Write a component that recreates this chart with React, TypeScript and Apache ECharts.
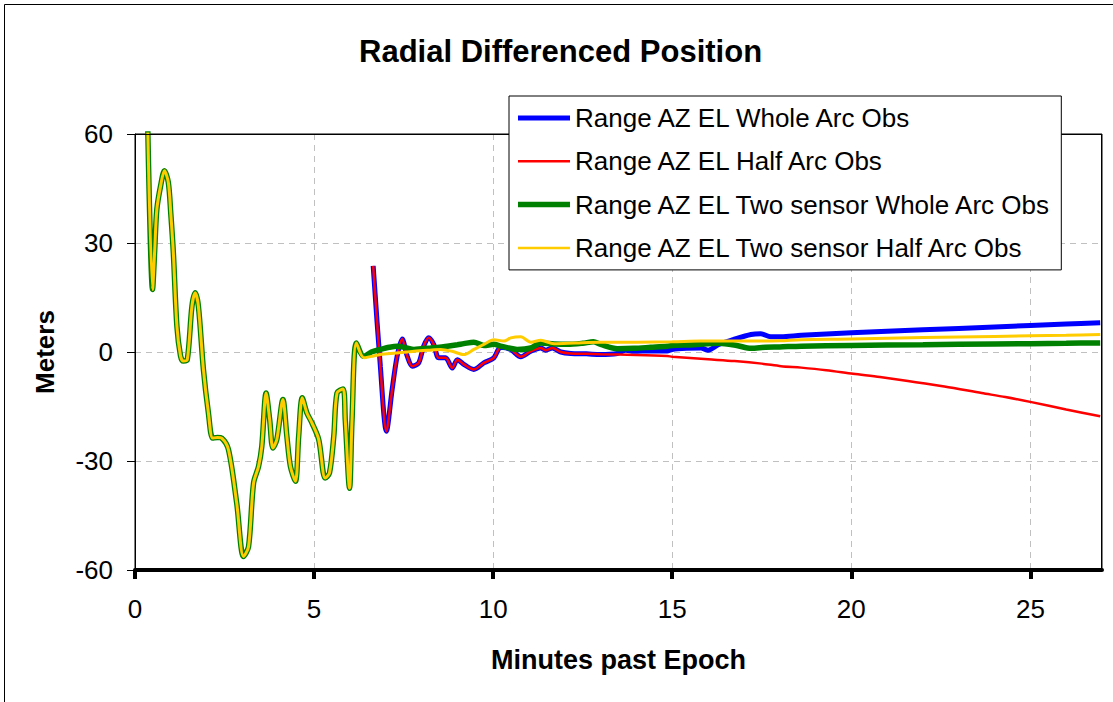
import React, { useEffect, useRef } from "react";
import * as echarts from "echarts";

const FONT = '"Liberation Sans", Arial, Helvetica, sans-serif';

const chartTitle = "Radial Differenced Position";
const xAxisName = "Minutes past Epoch";
const yAxisName = "Meters";
const seriesNames = [
  "Range AZ EL Whole Arc Obs",
  "Range AZ EL Half Arc Obs",
  "Range AZ EL Two sensor Whole Arc Obs",
  "Range AZ EL Two sensor Half Arc Obs",
];
const seriesColors = ["#0000ff", "#ff0000", "#008000", "#ffcc00"];
const seriesWidths = [5, 2.5, 5.5, 3];
const legendIcons = [
  "path://M0,0H52V5H0Z",
  "path://M0,0H52V2.5H0Z",
  "path://M0,0H52V5.5H0Z",
  "path://M0,0H52V2.5H0Z",
];
const xTicks = [0, 5, 10, 15, 20, 25];

// [minutes, meters] — shared early section of the two-sensor solutions
const twoSensorEarly: [number, number][] = [
  [0.34, 70], [0.49, 17.2], [0.55, 28], [0.61, 39.3], [0.72, 46], [0.82, 49.9],
  [0.93, 46.7], [1.0, 38], [1.07, 27.4], [1.17, 7.1], [1.27, -1], [1.35, -2.5],
  [1.46, -2.1], [1.59, 12.6], [1.68, 16.3], [1.77, 12.6], [1.91, -4.8], [2.05, -16.8],
  [2.17, -23.7], [2.3, -23.5], [2.42, -23.7], [2.61, -26.9], [2.84, -41.6], [3.03, -56.3],
  [3.17, -53.6], [3.31, -36.1], [3.45, -31.5], [3.54, -26], [3.66, -11.3], [3.76, -18.6],
  [3.85, -26.4], [3.96, -24.1], [4.13, -13.1], [4.24, -23.2], [4.34, -31.5], [4.48, -35.6],
  [4.57, -23.2], [4.67, -12.6], [4.8, -16.8], [4.94, -19.5], [5.13, -24.1], [5.31, -34.7],
  [5.43, -33.3], [5.55, -23.2], [5.64, -11.3], [5.81, -10.2], [5.87, -18.6], [5.99, -37.5],
  [6.06, -18.6], [6.18, 2.5],
];

const twoSensorWholeTail: [number, number][] = [
  [6.39, -1.2], [6.6, 0], [6.85, 0.7], [7.1, 1.3], [7.32, 1.6], [7.55, 1.2], [7.79, 0.7],
  [8.0, 0.9], [8.25, 1.1], [8.5, 1.3], [8.72, 1.6], [9.0, 2.0], [9.18, 2.3], [9.46, 2.7],
  [9.74, 1.8], [10.02, 2.1], [10.21, 1.6], [10.39, 1.2], [10.67, 0.7], [11.05, 1.1],
  [11.33, 2.5], [11.7, 2.2], [12.07, 2.1], [12.5, 2.4], [12.8, 2.8], [13.0, 2.1],
  [13.47, 0.9], [13.93, 1.0], [14.4, 1.3], [14.86, 1.6], [15.0, 1.8], [15.6, 2.0],
  [16.3, 2.4], [16.8, 1.8], [17.2, 1.0], [17.6, 1.3], [18.0, 1.4], [18.6, 1.6], [20, 1.8],
  [22, 2.0], [24, 2.2], [26, 2.4], [26.95, 2.5],
];

const twoSensorHalfTail: [number, number][] = [
  [6.39, -1.6], [6.6, -1.2], [6.85, -0.7], [7.3, -0.3], [7.79, 0.2], [8.2, 0.5], [8.53, 0.7],
  [8.85, 0.2], [9.18, -0.7], [9.46, 0.7], [9.74, 2.1], [10.02, 3.4], [10.3, 3.0],
  [10.49, 3.9], [10.77, 4.2], [11.05, 2.7], [11.33, 3.2], [11.7, 2.3], [12.3, 2.5],
  [13.0, 2.7], [14, 2.7], [15, 2.8], [15.8, 3.0], [16.74, 3.0], [18.0, 3.1], [18.6, 3.4],
  [20, 3.6], [22, 4.0], [24, 4.3], [26, 4.6], [26.95, 4.8],
];

// shared early section of the single-sensor solutions
const arcEarly: [number, number][] = [
  [6.65, 23.7], [6.85, -3.9], [7.02, -21.8], [7.18, -10.3], [7.32, -1.1], [7.46, 3.6],
  [7.6, -1.1], [7.74, -3.9], [7.92, -3.0], [8.06, 1.6], [8.2, 3.9], [8.34, 2.1],
  [8.48, -1.6], [8.67, -1.6], [8.86, -4.4], [9.0, -2.1], [9.18, -3.4], [9.46, -4.8],
  [9.74, -3.0], [10.02, -1.6], [10.21, 1.3], [10.49, 0.7], [10.77, -1.3], [11.05, 0.2],
  [11.33, 1.1], [11.47, 0.5], [11.65, 1.1], [11.89, 0], [12.17, -0.4],
];

const wholeArcTail: [number, number][] = [
  [12.6, -0.5], [13.0, -0.7], [13.47, -0.4], [13.7, 0.5], [13.93, 0.2], [14.4, 0.3],
  [14.86, 0.3], [15.0, 0.7], [15.4, 1.0], [15.8, 1.1], [16.0, 0.5], [16.3, 2.1],
  [16.7, 3.4], [17.2, 4.8], [17.47, 5.0], [17.75, 4.2], [18.04, 4.2], [18.6, 4.6],
  [20, 5.3], [22, 6.1], [24, 6.9], [25, 7.3], [26, 7.7], [26.95, 8.05],
];

const halfArcTail: [number, number][] = [
  [12.6, -0.5], [13.0, -0.6], [14, -0.8], [14.86, -1.1], [15, -1.3], [16, -2.0],
  [16.74, -2.5], [17.5, -3.2], [18.04, -3.9], [18.6, -4.3], [19.3, -5.0], [20.05, -6.0],
  [20.8, -6.9], [21.58, -8.0], [22.6, -9.5], [23.64, -11.3], [24.3, -12.4], [25.03, -13.8],
  [26, -15.8], [26.95, -17.7],
];

const seriesData: [number, number][][] = [
  [...arcEarly, ...wholeArcTail],
  [...arcEarly, ...halfArcTail],
  [...twoSensorEarly, ...twoSensorWholeTail],
  [...twoSensorEarly, ...twoSensorHalfTail],
];

export default function App() {
  const ref = useRef<HTMLDivElement>(null);

  useEffect(() => {
    if (!ref.current) return;
    const chart = echarts.init(ref.current, null, { renderer: "svg" });
    const option: any = {
      animation: false,
      backgroundColor: "#ffffff",
      title: {
        text: chartTitle,
        left: 354,
        top: 31,
        textStyle: { fontFamily: FONT, fontSize: 31, fontWeight: "bold", color: "#000" },
      },
      graphic: [
        {
          type: "rect",
          z: 100,
          silent: true,
          shape: { x: 4.5, y: 4.5, width: 1200, height: 800 },
          style: { fill: "none", stroke: "#000", lineWidth: 1 },
        },
        {
          type: "line",
          z: 3,
          silent: true,
          shape: { x1: 135, y1: 134.5, x2: 1102, y2: 134.5 },
          style: { stroke: "#000", lineWidth: 1 },
        },
        {
          type: "line",
          z: 3,
          silent: true,
          shape: { x1: 1101.5, y1: 134, x2: 1101.5, y2: 570 },
          style: { stroke: "#000", lineWidth: 1 },
        },
      ],
      grid: {
        left: 135,
        right: 11,
        top: 134,
        bottom: 132,
        show: true,
        borderColor: "#000",
        borderWidth: 1,
        backgroundColor: "transparent",
      },
      legend: {
        orient: "vertical",
        left: 509,
        top: 96,
        z: 10,
        padding: [9, 8, 9, 9],
        itemWidth: 52,
        itemHeight: 26,
        itemGap: 17.3,
        symbolKeepAspect: true,
        backgroundColor: "#fff",
        borderColor: "#000",
        borderWidth: 1,
        textStyle: { fontFamily: FONT, fontSize: 26, color: "#000" },
        data: seriesNames.map((name, i) => ({
          name,
          icon: legendIcons[i],
          itemStyle: { color: seriesColors[i], borderWidth: 0 },
        })),
      },
      xAxis: {
        type: "value",
        min: 0,
        max: 27,
        interval: 5,
        name: xAxisName,
        nameLocation: "middle",
        nameGap: 76,
        nameTextStyle: { fontFamily: FONT, fontSize: 27, fontWeight: "bold", color: "#000" },
        axisLine: { show: true, onZero: false, lineStyle: { color: "#000", width: 4 } },
        axisTick: { show: true, length: 9, customValues: xTicks, lineStyle: { color: "#000", width: 4 } },
        axisLabel: { customValues: xTicks, margin: 26, fontFamily: FONT, fontSize: 26, color: "#000" },
        splitLine: { show: true, lineStyle: { color: "#c0c0c0", type: [6, 5], width: 1 } },
      },
      yAxis: {
        type: "value",
        min: -60,
        max: 60,
        interval: 30,
        name: yAxisName,
        nameLocation: "middle",
        nameGap: 77,
        nameTextStyle: { fontFamily: FONT, fontSize: 26, fontWeight: "bold", color: "#000" },
        axisLine: { show: true, onZero: false, lineStyle: { color: "#000", width: 1 } },
        axisTick: { show: true, length: 8, lineStyle: { color: "#000", width: 1 } },
        axisLabel: { margin: 22, fontFamily: FONT, fontSize: 26, color: "#000" },
        splitLine: { show: true, lineStyle: { color: "#c0c0c0", type: [6, 5], width: 1 } },
      },
      series: seriesNames.map((name, i) => ({
        name,
        type: "line",
        data: seriesData[i],
        showSymbol: false,
        symbol: "none",
        smooth: 0.3,
        clip: true,
        silent: true,
        lineStyle: { color: seriesColors[i], width: seriesWidths[i] },
        itemStyle: { color: seriesColors[i] },
        z: 2,
      })),
    };
    chart.setOption(option);
    return () => chart.dispose();
  }, []);

  return (
    <div
      ref={ref}
      style={{ position: "fixed", left: 0, top: 0, width: 1113, height: 702, background: "#fff" }}
    />
  );
}
